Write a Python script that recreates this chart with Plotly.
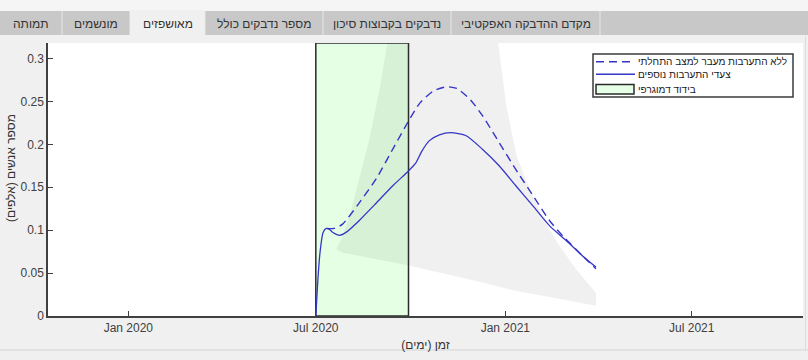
import plotly.graph_objects as go

# ---------------- data ----------------
tab_labels = ["תמותה", "מונשמים", "מאושפזים", "מספר נדבקים כולל",
              "נדבקים בקבוצות סיכון", "מקדם ההדבקה האפקטיבי"]
selected_tab = "מאושפזים"

series_names = ["ללא התערבות מעבר למצב התחלתי", "צעדי התערבות נוספים", "בידוד דמוגרפי"]

x_title = "זמן (ימים)"
y_title = "מספר אנשים (אלפים)"

intervention_dates = ["2020-07-01", "2020-07-03", "2020-07-05", "2020-07-08", "2020-07-11",
                      "2020-07-14", "2020-07-18", "2020-07-24", "2020-07-31", "2020-08-12",
                      "2020-08-29", "2020-09-14", "2020-09-29", "2020-10-06", "2020-10-12",
                      "2020-10-19", "2020-10-29", "2020-11-09", "2020-11-24", "2020-12-10",
                      "2020-12-26", "2021-01-11", "2021-01-28", "2021-02-13", "2021-03-01",
                      "2021-03-17", "2021-03-30"]
intervention_values = [0.0, 0.042, 0.073, 0.097, 0.102,
                       0.101, 0.097, 0.094, 0.098, 0.111,
                       0.132, 0.152, 0.169, 0.178, 0.192,
                       0.204, 0.211, 0.2135, 0.210, 0.194,
                       0.175, 0.152, 0.128, 0.105, 0.088,
                       0.070, 0.057]

no_intervention_dates = ["2020-07-12", "2020-07-19", "2020-07-27", "2020-08-12", "2020-08-29",
                         "2020-09-14", "2020-09-29", "2020-10-10", "2020-10-23", "2020-11-05",
                         "2020-11-15", "2020-11-28", "2020-12-10", "2020-12-26", "2021-01-11",
                         "2021-01-28", "2021-02-13", "2021-02-26", "2021-03-17", "2021-03-30"]
no_intervention_values = [0.102, 0.102, 0.107, 0.1315, 0.1605,
                          0.195, 0.227, 0.248, 0.262, 0.267,
                          0.265, 0.252, 0.233, 0.202, 0.171,
                          0.140, 0.111, 0.093, 0.070, 0.055]

band_upper_dates = ["2020-07-21", "2020-07-24", "2020-07-26", "2020-08-03", "2020-08-12",
                    "2020-08-22", "2020-09-01", "2020-09-08", "2020-09-15", "2020-10-01",
                    "2020-11-01", "2020-12-05", "2020-12-18", "2020-12-25", "2021-01-02",
                    "2021-01-12", "2021-01-25", "2021-02-07", "2021-02-23", "2021-03-11",
                    "2021-03-30"]
band_upper_values = [0.078, 0.085, 0.090, 0.117, 0.159,
                     0.206, 0.264, 0.318, 0.380, 0.480,
                     0.540, 0.500, 0.420, 0.318, 0.245,
                     0.186, 0.147, 0.112, 0.081, 0.054,
                     0.027]
band_lower_dates = ["2021-03-30", "2021-02-13", "2021-01-12", "2020-12-10", "2020-11-10",
                    "2020-09-28", "2020-08-29", "2020-07-27", "2020-07-22"]
band_lower_values = [0.012, 0.022, 0.029, 0.039, 0.047,
                     0.059, 0.066, 0.074, 0.077]

quarantine_start = "2020-07-01"
quarantine_end = "2020-09-29"

x_tick_dates = ["2020-01-01", "2020-07-01", "2021-01-01", "2021-07-01"]
x_tick_labels = ["Jan 2020", "Jul 2020", "Jan 2021", "Jul 2021"]
y_tick_values = [0, 0.05, 0.1, 0.15, 0.2, 0.25, 0.3]
x_range = ["2019-10-15", "2021-10-17"]
y_range = [0, 0.318]

# ---------------- layout geometry (pixels) ----------------
W, H = 808, 360
ML, MR, MT, MB = 48, 5, 43, 44
PW, PH = W - ML - MR, H - MT - MB
tab_edges = [0, 62, 130, 205, 323, 451, 600]
FONT = "Liberation Sans, Arial, DejaVu Sans, sans-serif"
LINE_BLUE = "#3535c8"


def px2x(px):
    return (px - ML) / PW


def py2y(py):
    return (H - MB - py) / PH


fig = go.Figure()

# confidence band
fig.add_trace(go.Scatter(
    x=band_upper_dates + band_lower_dates,
    y=band_upper_values + band_lower_values,
    fill="toself", fillcolor="rgb(240,240,240)", mode="lines",
    line=dict(width=0, color="rgba(0,0,0,0)"), showlegend=False, hoverinfo="skip"))

# quarantine rectangle
fig.add_trace(go.Scatter(
    x=[quarantine_start, quarantine_start, quarantine_end, quarantine_end, quarantine_start],
    y=[y_range[0], y_range[1], y_range[1], y_range[0], y_range[0]],
    fill="toself", fillcolor="rgba(0,255,0,0.1)", mode="lines",
    line=dict(color="#2b2b2b", width=1.5), name=series_names[2], showlegend=False))

# no-intervention (dashed)
fig.add_trace(go.Scatter(
    x=no_intervention_dates, y=no_intervention_values, mode="lines",
    line=dict(color=LINE_BLUE, width=1.4, dash="8px,5px", shape="spline", smoothing=0.6),
    name=series_names[0], showlegend=False))

# intervention (solid)
fig.add_trace(go.Scatter(
    x=intervention_dates, y=intervention_values, mode="lines",
    line=dict(color=LINE_BLUE, width=1.3, shape="spline", smoothing=0.6),
    name=series_names[1], showlegend=False))

shapes = []
annotations = []

# tab bar
shapes.append(dict(type="rect", xref="paper", yref="paper",
                   x0=px2x(0), x1=px2x(W), y0=py2y(0), y1=py2y(11),
                   fillcolor="#f5f5f5", line=dict(width=0), layer="below"))
shapes.append(dict(type="rect", xref="paper", yref="paper",
                   x0=px2x(0), x1=px2x(W), y0=py2y(11), y1=py2y(35),
                   fillcolor="#c8c8c8", line=dict(width=0), layer="below"))
for i, lab in enumerate(tab_labels):
    a, b = tab_edges[i], tab_edges[i + 1]
    if lab == selected_tab:
        shapes.append(dict(type="rect", xref="paper", yref="paper",
                           x0=px2x(a), x1=px2x(b), y0=py2y(10), y1=py2y(36),
                           fillcolor="#f0f0f0", line=dict(width=0), layer="below"))
    shapes.append(dict(type="line", xref="paper", yref="paper",
                       x0=px2x(b), x1=px2x(b), y0=py2y(11), y1=py2y(35),
                       line=dict(color="#e8e8e8", width=1), layer="below"))
    annotations.append(dict(text=lab, xref="paper", yref="paper",
                            x=px2x((a + b) / 2), y=py2y(23.5), xanchor="center",
                            yanchor="middle", showarrow=False,
                            font=dict(family=FONT, size=12, color="#333333")))

# panel borders
shapes.append(dict(type="line", xref="paper", yref="paper",
                   x0=px2x(0), x1=px2x(W), y0=py2y(350), y1=py2y(350),
                   line=dict(color="#d4d4d4", width=1), layer="below"))
shapes.append(dict(type="line", xref="paper", yref="paper",
                   x0=px2x(805.5), x1=px2x(805.5), y0=py2y(36), y1=py2y(350),
                   line=dict(color="#dcdcdc", width=1), layer="below"))

# legend (drawn by hand to match compact layout)
shapes.append(dict(type="rect", xref="paper", yref="paper",
                   x0=px2x(593), x1=px2x(793), y0=py2y(54), y1=py2y(97),
                   fillcolor="white", line=dict(color="#3a3a3a", width=1.5), layer="above"))
shapes.append(dict(type="line", xref="paper", yref="paper",
                   x0=px2x(596), x1=px2x(635), y0=py2y(61.7), y1=py2y(61.7),
                   line=dict(color=LINE_BLUE, width=1.6, dash="8px,5px"), layer="above"))
shapes.append(dict(type="line", xref="paper", yref="paper",
                   x0=px2x(596), x1=px2x(635), y0=py2y(74.3), y1=py2y(74.3),
                   line=dict(color=LINE_BLUE, width=1.6), layer="above"))
shapes.append(dict(type="rect", xref="paper", yref="paper",
                   x0=px2x(596), x1=px2x(634), y0=py2y(84.5), y1=py2y(94),
                   fillcolor="#e6ffe6", line=dict(color="#2b2b2b", width=1.5), layer="above"))
for name, yy in zip(series_names, [61.7, 74.5, 89.3]):
    annotations.append(dict(text=name, xref="paper", yref="paper",
                            x=px2x(637), y=py2y(yy), xanchor="left", yanchor="middle",
                            showarrow=False, borderpad=0,
                            font=dict(family=FONT, size=10, color="#1a1a1a")))

# y-axis title placed like the reference (slightly above the plot centre)
annotations.append(dict(text=y_title, xref="paper", yref="paper",
                        x=px2x(11), y=py2y(168), xanchor="center", yanchor="middle",
                        textangle=-90, showarrow=False,
                        font=dict(family=FONT, size=12, color="#333333")))

fig.update_layout(
    width=W, height=H,
    margin=dict(l=ML, r=MR, t=MT, b=MB, pad=0, autoexpand=False),
    paper_bgcolor="#f0f0f0", plot_bgcolor="white",
    showlegend=False,
    font=dict(family=FONT, size=12, color="#404040"),
    shapes=shapes, annotations=annotations,
    xaxis=dict(type="date", range=x_range, tickmode="array", automargin=False,
               tickvals=x_tick_dates, ticktext=x_tick_labels,
               showgrid=False, zeroline=False, showline=True,
               linecolor="#404040", linewidth=1.5,
               ticks="inside", ticklen=5, tickwidth=1.2, tickcolor="#404040",
               tickfont=dict(family=FONT, size=12, color="#404040"),
               title=dict(text=x_title, standoff=6,
                          font=dict(family=FONT, size=12, color="#333333"))),
    yaxis=dict(range=y_range, tickmode="array", tickvals=y_tick_values, automargin=False,
               showgrid=False, zeroline=False, showline=True,
               linecolor="#404040", linewidth=1.5,
               ticks="inside", ticklen=5, tickwidth=1.2, tickcolor="#404040",
               tickfont=dict(family=FONT, size=12, color="#404040")),
)

fig.write_html("out.html", config={"displayModeBar": False},
               post_script="document.body.style.margin='0px';document.body.style.padding='0px';")
